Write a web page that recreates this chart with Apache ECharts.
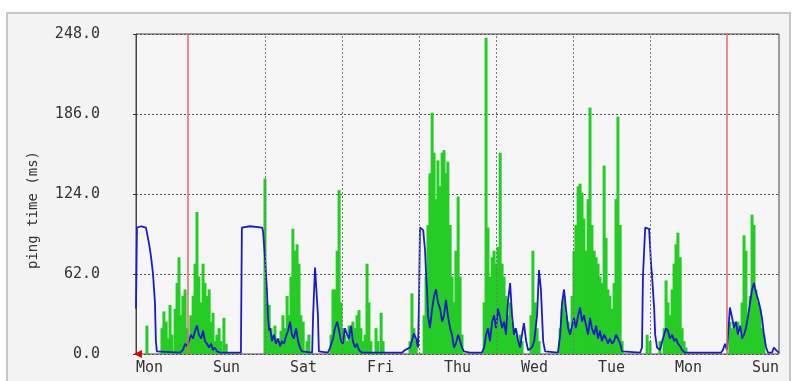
<!DOCTYPE html>
<html><head><meta charset="utf-8">
<script src="https://cdn.jsdelivr.net/npm/echarts@6/dist/echarts.min.js"></script>
<style>html,body{margin:0;padding:0;background:#fff}#c{width:798px;height:381px}</style>
</head><body><div id="c"></div>
<script>
// x = hours from left edge of the plot (time runs right-to-left, MRTG style)
const dayLabels = ['Mon','Sun','Sat','Fri','Thu','Wed','Tue','Mon','Sun'];
const dayLabelHours = [4.2, 28.2, 52.2, 76.2, 100.2, 124.2, 148.2, 172.2, 196.2];
const dayLineHours = [16.2, 40.2, 64.2, 88.2, 112.2, 136.2, 160.2, 184.2];
const weekLineHours = [16.2, 184.2];
const yMax = 248, yStep = 62;

// green: max ping time (ms)
const greenPings = [
[3.4,22],[8.1,20],[8.7,33],[9.4,25],[10.0,12],[10.6,38],[11.2,15],[12.2,35],[12.8,55],[13.4,75],[14.0,30],[14.6,45],[15.3,50],[15.9,20],[16.5,10],[17.1,30],[17.8,45],[18.4,70],[19.0,110],[19.6,60],[20.3,40],[20.9,70],[21.5,55],[22.1,45],[22.8,50],[23.4,25],[24.0,32],[24.6,10],[25.2,15],[25.9,20],[26.5,10],[27.4,28],[28.1,8],
[40.2,136],[40.8,40],[41.5,38],[42.1,20],[42.7,15],[43.3,22],[43.9,12],[44.6,10],[45.2,18],[45.8,30],[46.4,20],[47.1,45],[47.7,30],[48.3,60],[48.9,97],[49.6,80],[50.2,85],[50.8,70],[51.4,30],[52.1,25],[53.3,10],[53.9,15],
[60.8,15],[61.4,50],[62.0,50],[62.7,80],[63.3,127],[63.9,40],[64.5,20],[65.1,15],[65.8,10],[66.4,22],[67.0,15],[67.6,25],[68.3,20],[68.9,30],[69.5,34],[70.1,20],[70.8,10],[71.4,15],[72.0,70],[72.6,40],[73.2,10],
[74.8,20],[75.4,10],[76.4,32],[77.0,10],
[85.4,10],[86.0,47],[86.6,20],[87.3,10],
[89.8,30],[90.4,60],[91.0,100],[91.6,140],[92.3,187],[92.9,156],[93.5,120],[94.1,150],[94.8,130],[95.4,156],[96.0,158],[96.6,140],[97.2,149],[97.9,100],[98.5,60],[99.1,40],[99.7,80],[100.4,122],[101.0,60],[101.6,15],
[108.5,40],[109.1,245],[109.7,98],[110.3,60],[111.0,75],[111.6,80],[112.2,70],[112.8,83],[113.5,156],[114.1,70],[114.7,60],[115.3,45],[115.9,30],[116.6,40],[117.2,25],[117.8,20],[118.4,15],[119.1,10],[119.7,15],[120.3,10],
[123.1,30],[123.7,80],[124.4,40],[125.0,20],[125.6,10],
[132.2,20],[132.8,35],[133.4,45],[134.0,30],[134.7,25],[135.3,20],[135.9,45],[136.5,80],[137.1,100],[137.8,130],[138.4,132],[139.0,125],[139.6,105],[140.3,80],[140.9,120],[141.5,191],[142.1,100],[142.8,80],[143.4,75],[144.0,70],[144.6,60],[145.2,55],[145.9,146],[146.5,90],[147.1,50],[147.7,45],[148.4,35],[149.0,55],[149.6,120],[150.2,184],[150.9,100],[151.5,10],
[159.3,15],[160.2,10],
[163.3,10],[164.6,20],[165.2,57],[165.8,40],[166.4,30],[167.1,50],[167.7,70],[168.3,85],[168.9,94],[169.6,75],[170.2,20],[170.8,10],[171.4,5],
[185.1,25],[185.8,20],[186.4,25],[187.0,20],[187.6,25],[188.3,15],[188.9,40],[189.5,92],[190.1,80],[190.8,30],[191.4,45],[192.0,108],[192.6,100],[193.2,50],[193.9,40],[194.5,35],[195.1,20],[195.7,15]
];

// blue: average ping time (ms)
const bluePings = [
[0.0,35],[0.3,98],[1.6,99],[3.1,98],[3.7,97],[4.1,85],[4.7,75],[5.3,62],[5.9,40],[6.2,10],[6.5,2],[13.7,1],
[14.6,3],[15.3,8],[15.9,6],[16.5,10],[17.1,15],[17.8,12],[18.4,18],[19.0,22],[19.6,15],[20.3,12],[20.9,18],[21.5,10],[22.1,8],[22.8,5],[23.4,8],[24.0,3],[24.6,5],[25.2,2],[26.2,1],
[32.7,1],[33.0,98],[35.5,99],[39.3,98],[39.6,95],[39.9,85],[40.2,75],[40.5,62],[40.8,50],[41.1,30],[41.5,18],[41.8,20],[42.4,10],[43.0,15],[43.6,8],[44.3,12],[44.9,6],[45.5,10],[46.1,8],[46.8,14],[47.4,18],[48.0,25],[48.6,15],[49.2,12],[49.9,20],[50.5,10],[51.1,5],[51.7,2],
[54.9,1],[55.2,30],[55.8,67],[56.4,67],[56.7,30],[57.0,2],[59.8,1],
[60.5,5],[61.4,12],[62.0,20],[62.7,25],[63.3,18],[63.9,10],[64.5,8],[65.1,20],[65.8,15],[66.4,12],[67.0,22],[67.6,10],[68.3,5],[68.9,8],[69.5,3],[70.4,1],
[82.9,1],[83.8,3],[85.4,5],[86.0,10],[86.6,16],[87.3,12],[87.9,5],[88.2,40],[88.5,98],[89.5,96],[90.1,80],[90.4,62],[90.7,50],[91.0,30],[91.6,20],[92.3,35],[92.9,45],[93.5,50],[94.1,40],[94.8,35],[95.4,25],[96.0,30],[96.6,42],[97.2,30],[97.9,20],[98.5,15],[99.1,5],[99.7,8],[100.4,15],[101.0,10],[101.6,5],[102.2,2],[104.1,1],
[107.8,1],[108.5,5],[109.1,15],[109.7,20],[110.3,10],[111.0,25],[111.6,30],[112.2,20],[112.8,35],[113.5,28],[114.1,20],[114.7,25],[115.3,15],[115.9,40],[116.6,55],[117.2,30],[117.8,15],[118.4,20],[119.1,10],[119.7,5],[120.3,15],[120.9,24],[121.6,10],[122.2,3],[122.8,2],[123.4,5],[124.1,10],[125.0,30],[125.6,65],[126.2,50],[126.9,10],[127.5,2],
[131.5,1],[132.2,15],[132.8,40],[133.4,50],[134.0,35],[134.7,20],[135.3,15],[135.9,22],[136.5,28],[137.1,20],[137.8,30],[138.4,36],[139.0,25],[139.6,30],[140.3,22],[140.9,15],[141.5,28],[142.1,20],[142.8,15],[143.4,22],[144.0,12],[144.6,18],[145.2,10],[145.9,15],[146.5,12],[147.1,8],[147.7,12],[148.4,8],[149.0,10],[149.6,15],[150.2,12],[150.9,8],[151.5,2],
[157.1,1],[157.7,5],[158.0,60],[158.7,98],[159.9,97],[160.2,85],[160.5,70],[160.8,62],[161.5,35],[161.8,15],[162.4,5],[163.3,3],[164.0,10],[164.6,15],[165.2,20],[165.8,18],[166.4,12],[167.1,15],[167.7,10],[168.3,12],[168.9,8],[169.6,6],[170.2,3],[171.1,1],
[182.3,1],[182.9,3],[183.6,8],[184.2,3],[184.8,25],[185.1,36],[185.8,28],[186.4,20],[187.0,25],[187.6,15],[188.3,22],[188.9,12],[189.5,15],[190.1,20],[190.8,30],[191.4,40],[192.0,50],[192.6,55],[193.2,48],[193.9,42],[194.5,36],[195.1,28],[195.7,15],[196.4,5],[197.0,1],
[198.2,1],[198.8,5],[199.5,3],[200.4,1]
];

const mono = '"DejaVu Sans Mono", "Liberation Mono", monospace';
const chart = echarts.init(document.getElementById('c'), null, {renderer: 'canvas'});
chart.setOption({
  backgroundColor: '#ffffff',
  animation: false,
  graphic: [
    {type: 'rect', z: -100, silent: true, shape: {x: 7, y: 13, width: 783, height: 380},
     style: {fill: '#f3f3f3', stroke: '#c6c6c6', lineWidth: 2}},
    {type: 'text', x: 33, y: 210, rotation: Math.PI / 2, silent: true,
     style: {text: 'ping time (ms)', font: '14px ' + mono, fill: '#333', align: 'center', verticalAlign: 'middle'}}
  ],
  grid: {left: 136, right: 19, top: 34, bottom: 27, show: true, backgroundColor: '#f5f5f5', borderColor: '#444', borderWidth: 1},
  xAxis: {
    type: 'value', min: 0, max: 200.4,
    axisLine: {show: false}, axisTick: {show: false}, splitLine: {show: false},
    axisLabel: {
      customValues: dayLabelHours,
      margin: 7, color: '#333', fontFamily: mono, fontSize: 15,
      formatter: function (v) {
        for (let i = 0; i < dayLabelHours.length; i++) if (Math.abs(dayLabelHours[i] - v) < 0.01) return dayLabels[i];
        return '';
      }
    }
  },
  yAxis: {
    type: 'value', min: 0, max: yMax, interval: yStep,
    axisLine: {show: true, lineStyle: {color: '#444'}},
    axisTick: {show: true, length: 3, lineStyle: {color: '#333'}},
    axisLabel: {margin: 36, color: '#333', fontFamily: mono, fontSize: 15, formatter: v => v.toFixed(1)},
    splitLine: {show: true, lineStyle: {color: '#555', type: [2, 2], width: 1}}
  },
  series: [
    {
      type: 'bar', name: 'max', data: greenPings, barWidth: 3, z: 2,
      itemStyle: {color: '#26cc26'},
      markLine: {
        silent: true, symbol: ['none', 'none'], label: {show: false},
        data: dayLineHours.map(h => ({
          xAxis: h,
          lineStyle: weekLineHours.indexOf(h) >= 0
            ? {color: '#e06a6a', type: 'solid', width: 1.5}
            : {color: '#777', type: [2, 2], width: 1}
        }))
      }
    },
    {
      type: 'line', name: 'avg', data: bluePings, showSymbol: false, z: 3,
      lineStyle: {color: '#1c1cc4', width: 1.8}, itemStyle: {color: '#1c1cc4'},
      markPoint: {
        silent: true, label: {show: false},
        data: [{coord: [0.6, 0], symbol: 'triangle', symbolSize: [8, 8], symbolRotate: 90, itemStyle: {color: '#e00000'}}]
      }
    }
  ]
});
</script>
</body></html>
